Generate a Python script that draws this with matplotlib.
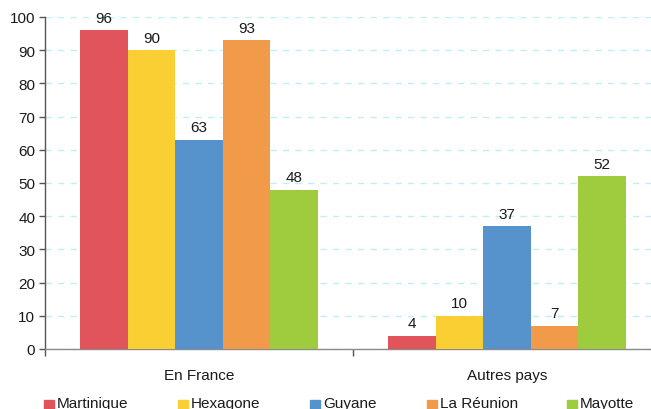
import matplotlib
matplotlib.use("Agg")
import matplotlib.pyplot as plt
from matplotlib.patches import Rectangle
import numpy as np

plt.rcParams['font.family'] = ['Liberation Sans', 'DejaVu Sans']

categories = ["En France", "Autres pays"]
series = ["Martinique", "Hexagone", "Guyane", "La Réunion", "Mayotte"]
values = {
    "Martinique": [96, 4],
    "Hexagone": [90, 10],
    "Guyane": [63, 37],
    "La Réunion": [93, 7],
    "Mayotte": [48, 52],
}
colors = ["#E1545B", "#F9CF33", "#5692CB", "#F09A4A", "#9FCB3F"]
yticks = [0, 10, 20, 30, 40, 50, 60, 70, 80, 90, 100]

W, H = 651, 410
fig = plt.figure(figsize=(W / 100, H / 100), dpi=100)
ax = fig.add_axes([45 / W, (H - 350) / H, 616 / W, 332 / H])

bw = 0.154
x = np.arange(len(categories))
n = len(series)
FS = 11
for i, (s, c) in enumerate(zip(series, colors)):
    pos = x + (i - (n - 1) / 2) * bw
    ax.bar(pos, values[s], width=bw, color=c, zorder=3)
    for p, v in zip(pos, values[s]):
        ax.annotate(str(v), (p, v), xytext=(0, 4), textcoords="offset points",
                    ha="center", va="bottom", fontsize=FS, color="#1a1a1a")

ax.set_xlim(-0.5, 1.5)
ax.set_ylim(0, 100)
ax.set_yticks(yticks)
ax.set_yticklabels([str(t) for t in yticks], fontsize=FS, color="#1a1a1a")
ax.tick_params(axis="y", direction="out", length=4, width=1, color="#555555", pad=3)

ax.set_xticks(x)
ax.set_xticklabels(categories, fontsize=FS, color="#1a1a1a")
ax.tick_params(axis="x", which="major", length=0, pad=14)
ax.set_xticks([-0.5, 0.5, 1.5], minor=True)
ax.tick_params(axis="x", which="minor", direction="out", length=5, width=1, color="#555555")

ax.yaxis.grid(True, color="#BDEFF7", linestyle=(0, (4.5, 4.5)), linewidth=1, zorder=0)
ax.set_axisbelow(True)
for side in ["top", "right"]:
    ax.spines[side].set_visible(False)
ax.spines["left"].set_color("#555555")
ax.spines["bottom"].set_color("#8a8a8a")
ax.spines["left"].set_linewidth(1)
ax.spines["bottom"].set_linewidth(1)

# legend (manually placed, partly cut at bottom as in reference)
sq_x = [44, 178, 310, 427, 567]
for sx, s, c in zip(sq_x, series, colors):
    fig.patches.append(Rectangle((sx / W, (H - 411) / H), 10 / W, 10 / H,
                                 transform=fig.transFigure, color=c, figure=fig))
    fig.text((sx + 13) / W, (H - 397) / H, s, fontsize=FS, color="#1a1a1a",
             ha="left", va="top")

fig.savefig("out.png", dpi=100)
